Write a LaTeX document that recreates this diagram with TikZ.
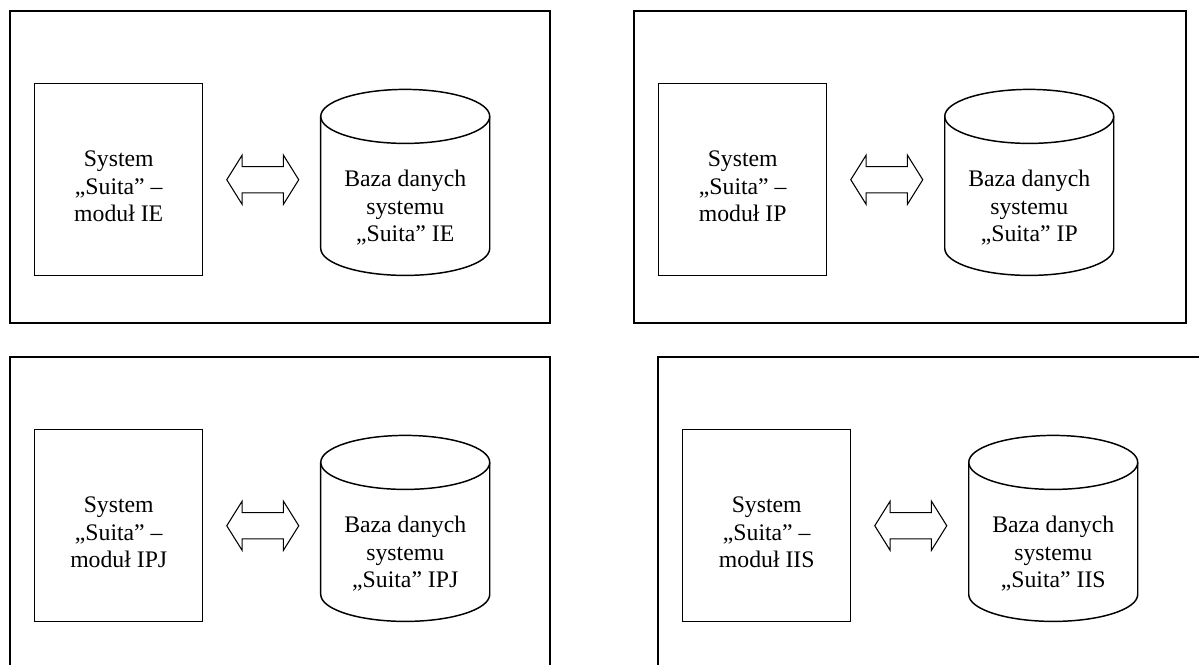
\documentclass[tikz,border=0pt]{standalone}
\usepackage{fontspec}
\setmainfont{Liberation Serif}
\usetikzlibrary{positioning}
\usetikzlibrary{shapes.arrows}

\begin{document}
\begin{tikzpicture}[x=0.75pt,y=-0.75pt,
  panel/.style={draw,line width=1.1pt},
  sysbox/.style={draw,line width=1.1pt,anchor=north west,minimum width=126pt,minimum height=144pt,inner sep=0pt},
  dblarrow/.style={draw,line width=0.8pt,double arrow,minimum height=54pt,inner xsep=0pt,inner ysep=9.4pt,double arrow head extend=8.6pt,double arrow tip angle=116},
  dbnode/.style={minimum height=139.5pt,minimum width=126.75pt,inner sep=0pt,outer sep=0pt},
  cylline/.style={line width=1.1pt},
  lbl/.style={font=\fontsize{17.8}{20.6}\selectfont,align=center,inner sep=0pt}]
 \clip (0,0) rectangle (1199,664);
 % panel IE
 \draw[panel] (10,11) rectangle (550,323);
 \node[sysbox] (sys1) at (34,83) {};
 \node[lbl,yshift=-5pt] (sys1txt) at (sys1.center) {System\\„Suita” –\\moduł IE};
 \node[dblarrow,right=17pt of sys1] (arr1) {};
 \node[dbnode,right=16pt of arr1,yshift=-2pt] (db1) {};
 \draw[cylline] ([yshift=-20.25pt]db1.north west) -- ([yshift=20.25pt]db1.south west) arc[start angle=180,end angle=360,x radius=63.375pt,y radius=20.25pt] -- ([yshift=-20.25pt]db1.north east);
 \draw[cylline] ([yshift=-20.25pt]db1.north) ellipse[x radius=63.375pt,y radius=20.25pt];
 \node[lbl,yshift=-19pt] (db1txt) at (db1.center) {Baza danych\\systemu\\„Suita” IE};
 % panel IP
 \draw[panel] (634,11) rectangle (1186,323);
 \node[sysbox] (sys2) at (658,83) {};
 \node[lbl,yshift=-5pt] (sys2txt) at (sys2.center) {System\\„Suita” –\\moduł IP};
 \node[dblarrow,right=17pt of sys2] (arr2) {};
 \node[dbnode,right=16pt of arr2,yshift=-2pt] (db2) {};
 \draw[cylline] ([yshift=-20.25pt]db2.north west) -- ([yshift=20.25pt]db2.south west) arc[start angle=180,end angle=360,x radius=63.375pt,y radius=20.25pt] -- ([yshift=-20.25pt]db2.north east);
 \draw[cylline] ([yshift=-20.25pt]db2.north) ellipse[x radius=63.375pt,y radius=20.25pt];
 \node[lbl,yshift=-19pt] (db2txt) at (db2.center) {Baza danych\\systemu\\„Suita” IP};
 % panel IPJ
 \draw[panel] (10,357) rectangle (550,669);
 \node[sysbox] (sys3) at (34,429) {};
 \node[lbl,yshift=-5pt] (sys3txt) at (sys3.center) {System\\„Suita” –\\moduł IPJ};
 \node[dblarrow,right=17pt of sys3] (arr3) {};
 \node[dbnode,right=16pt of arr3,yshift=-2pt] (db3) {};
 \draw[cylline] ([yshift=-20.25pt]db3.north west) -- ([yshift=20.25pt]db3.south west) arc[start angle=180,end angle=360,x radius=63.375pt,y radius=20.25pt] -- ([yshift=-20.25pt]db3.north east);
 \draw[cylline] ([yshift=-20.25pt]db3.north) ellipse[x radius=63.375pt,y radius=20.25pt];
 \node[lbl,yshift=-19pt] (db3txt) at (db3.center) {Baza danych\\systemu\\„Suita” IPJ};
 % panel IIS
 \draw[panel] (658,357) rectangle (1210,669);
 \node[sysbox] (sys4) at (682,429) {};
 \node[lbl,yshift=-5pt] (sys4txt) at (sys4.center) {System\\„Suita” –\\moduł IIS};
 \node[dblarrow,right=17pt of sys4] (arr4) {};
 \node[dbnode,right=16pt of arr4,yshift=-2pt] (db4) {};
 \draw[cylline] ([yshift=-20.25pt]db4.north west) -- ([yshift=20.25pt]db4.south west) arc[start angle=180,end angle=360,x radius=63.375pt,y radius=20.25pt] -- ([yshift=-20.25pt]db4.north east);
 \draw[cylline] ([yshift=-20.25pt]db4.north) ellipse[x radius=63.375pt,y radius=20.25pt];
 \node[lbl,yshift=-19pt] (db4txt) at (db4.center) {Baza danych\\systemu\\„Suita” IIS};
\end{tikzpicture}
\end{document}
